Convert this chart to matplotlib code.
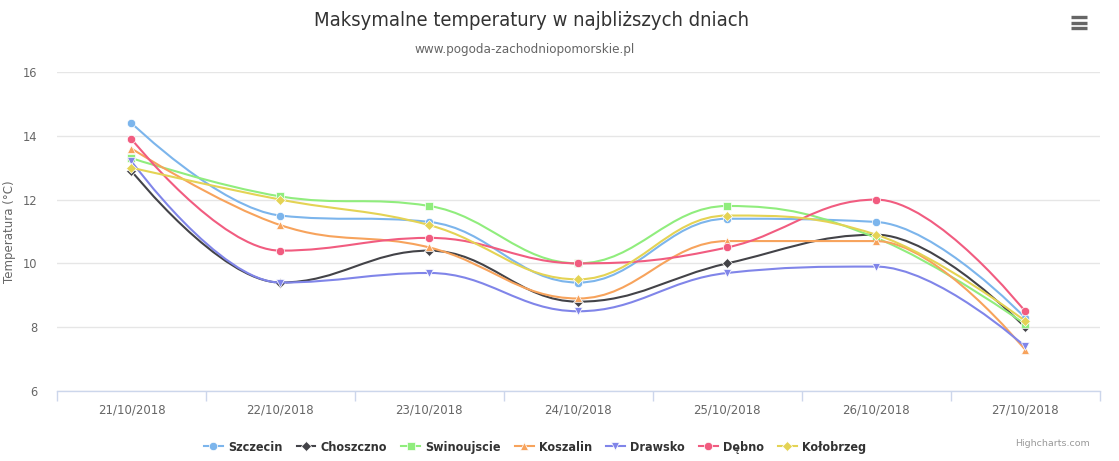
import matplotlib
matplotlib.use("Agg")
import matplotlib.pyplot as plt
from matplotlib.path import Path
from matplotlib.patches import PathPatch
from matplotlib.lines import Line2D

categories = ["21/10/2018", "22/10/2018", "23/10/2018", "24/10/2018",
              "25/10/2018", "26/10/2018", "27/10/2018"]

szczecin = [14.4, 11.5, 11.3, 9.4, 11.4, 11.3, 8.3]
choszczno = [12.9, 9.4, 10.4, 8.8, 10.0, 10.9, 8.0]
swinoujscie = [13.3, 12.1, 11.8, 10.0, 11.8, 10.8, 8.1]
koszalin = [13.6, 11.2, 10.5, 8.9, 10.7, 10.7, 7.3]
drawsko = [13.2, 9.4, 9.7, 8.5, 9.7, 9.9, 7.4]
debno = [13.9, 10.4, 10.8, 10.0, 10.5, 12.0, 8.5]
kolobrzeg = [13.0, 12.0, 11.2, 9.5, 11.5, 10.9, 8.2]

series_names = ["Szczecin", "Choszczno", "Swinoujscie", "Koszalin", "Drawsko", "Dębno", "Kołobrzeg"]
series_values = [szczecin, choszczno, swinoujscie, koszalin, drawsko, debno, kolobrzeg]
colors = ["#7cb5ec", "#434348", "#90ed7d", "#f7a35c", "#8085e9", "#f15c80", "#e4d354"]
markers = ["o", "D", "s", "^", "v", "o", "D"]
msizes = [6, 5, 5.8, 6.2, 6.2, 6, 5]

W, H = 1119, 461
fig = plt.figure(figsize=(W / 100, H / 100), dpi=100)
ax = fig.add_axes([57 / W, 1 - 391 / H, (1099.5 - 57) / W, (391 - 72) / H])


def spline_path(xs, ys, smoothing=1.5):
    denom = smoothing + 1
    n = len(xs)
    right = [None] * n
    verts = [(xs[0], ys[0])]
    codes = [Path.MOVETO]
    for i in range(1, n):
        px, py = xs[i], ys[i]
        lx, ly = xs[i - 1], ys[i - 1]
        lcx, lcy = px, py
        if i < n - 1:
            nx, ny = xs[i + 1], ys[i + 1]
            lcx = (smoothing * px + lx) / denom
            lcy = (smoothing * py + ly) / denom
            rcx = (smoothing * px + nx) / denom
            rcy = (smoothing * py + ny) / denom
            corr = 0
            if rcx != lcx:
                corr = ((rcy - lcy) * (rcx - px)) / (rcx - lcx) + py - rcy
            lcy += corr
            rcy += corr
            if lcy > ly and lcy > py:
                lcy = max(ly, py)
                rcy = 2 * py - lcy
            elif lcy < ly and lcy < py:
                lcy = min(ly, py)
                rcy = 2 * py - lcy
            if rcy > ny and rcy > py:
                rcy = max(ny, py)
                lcy = 2 * py - rcy
            elif rcy < ny and rcy < py:
                rcy = min(ny, py)
                lcy = 2 * py - rcy
            right[i] = (rcx, rcy)
        prev_r = right[i - 1] if right[i - 1] is not None else (lx, ly)
        verts += [prev_r, (lcx, lcy), (px, py)]
        codes += [Path.CURVE4, Path.CURVE4, Path.CURVE4]
    return Path(verts, codes)


xs = list(range(len(categories)))
handles = []
for k, (name, vals, c, m, ms) in enumerate(zip(series_names, series_values, colors, markers, msizes)):
    p = spline_path(xs, vals)
    ax.add_patch(PathPatch(p, facecolor="none", edgecolor=c, lw=1.5, zorder=3 + 2 * k,
                           capstyle="round", joinstyle="round"))
    ax.plot(xs, vals, linestyle="none", marker=m, markersize=ms, color=c,
            markeredgecolor="white", markeredgewidth=0.5, zorder=4 + 2 * k)
    handles.append(Line2D([], [], color=c, lw=1.5, marker=m, markersize=ms,
                          markeredgecolor="white", markeredgewidth=0.5))

ax.set_xlim(-0.5, len(categories) - 0.5)
ax.set_ylim(6, 16)
ax.set_yticks([6, 8, 10, 12, 14, 16])
ax.set_xticks(xs)
ax.set_xticklabels(categories)
ax.set_xticks([i - 0.5 for i in range(len(categories) + 1)], minor=True)

for s in ["top", "right", "left"]:
    ax.spines[s].set_visible(False)
ax.spines["bottom"].set_color("#ccd6eb")
ax.spines["bottom"].set_linewidth(1)
ax.grid(axis="y", color="#e6e6e6", lw=1)
ax.set_axisbelow(True)
ax.tick_params(axis="y", length=0, pad=14, labelsize=8.3, labelcolor="#666666")
ax.tick_params(axis="x", which="major", length=0, pad=9, labelsize=8.5, labelcolor="#666666")
ax.tick_params(axis="x", which="minor", length=7, color="#ccd6eb", width=1)
ax.set_ylabel("Temperatura (°C)", fontsize=8.5, color="#666666", labelpad=5)

fig.text(531 / W, 1 - 20 / H, "Maksymalne temperatury w najbliższych dniach",
         ha="center", va="center", fontsize=14.5, color="#333333", fontstretch="condensed")
fig.text(525 / W, 1 - 49 / H, "www.pogoda-zachodniopomorskie.pl",
         ha="center", va="center", fontsize=9.6, color="#666666", fontstretch="condensed")
fig.text(1090 / W, 1 - 443 / H, "Highcharts.com", ha="right", va="center",
         fontsize=6.8, color="#999999")

# menu icon
for yy in [17.5, 23, 28.5]:
    fig.add_artist(Line2D([1071 / W, 1087 / W], [1 - yy / H, 1 - yy / H],
                          color="#666666", lw=2.4, solid_capstyle="butt"))

leg = fig.legend(handles, series_names, loc="center", bbox_to_anchor=(535 / W, 1 - 447 / H),
                 ncol=7, frameon=False, handlelength=1.5, handletextpad=0.4,
                 columnspacing=1.15, prop={"size": 9, "weight": "bold", "stretch": "condensed"})
for t in leg.get_texts():
    t.set_color("#333333")

fig.savefig("out.png", dpi=100)
